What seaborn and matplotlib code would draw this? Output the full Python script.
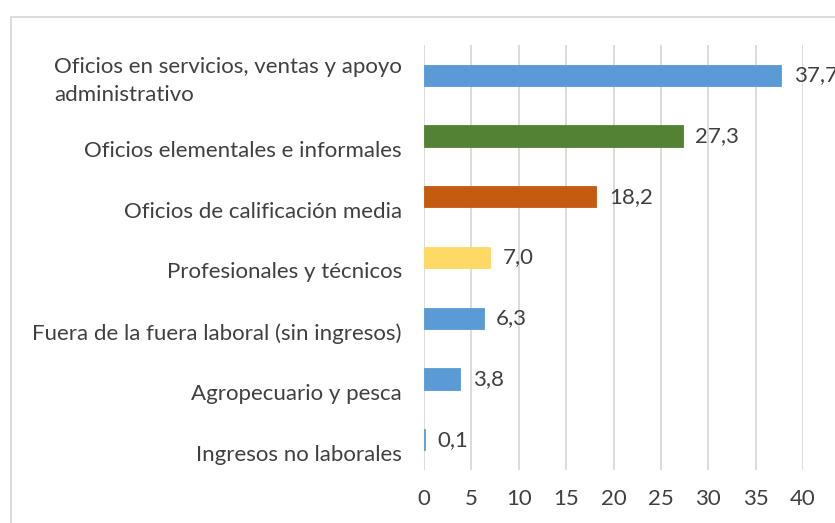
import matplotlib
matplotlib.use("Agg")
import matplotlib.pyplot as plt
import matplotlib.transforms as mtransforms
import seaborn as sns
import pandas as pd
from matplotlib.patches import Rectangle

categories = [
    "Oficios en servicios, ventas y apoyo\nadministrativo",
    "Oficios elementales e informales",
    "Oficios de calificación media",
    "Profesionales y técnicos",
    "Fuera de la fuera laboral (sin ingresos)",
    "Agropecuario y pesca",
    "Ingresos no laborales",
]
values = [37.7, 27.3, 18.2, 7.0, 6.3, 3.8, 0.1]
colors = ["#5B9BD5", "#548235", "#C55A11", "#FFD966", "#5B9BD5", "#5B9BD5", "#5B9BD5"]
xticks = [0, 5, 10, 15, 20, 25, 30, 35, 40]

df = pd.DataFrame({"cat": categories, "val": values})

sns.set_theme(style="white")
plt.rcParams["font.family"] = ["Lato", "DejaVu Sans"]

fig = plt.figure(figsize=(8.35, 5.23), dpi=100)
ax = fig.add_axes([0.5078, 0.1013, 0.9617 - 0.5078, 0.914 - 0.1013])

sns.barplot(data=df, y="cat", x="val", hue="cat", palette=colors, order=categories,
            hue_order=categories, orient="h", width=0.35, legend=False, ax=ax, saturation=1)
for p, c in zip(ax.patches, colors):
    p.set_edgecolor(c)
    p.set_linewidth(0.6)

ax.set_xlim(0, 40)
ax.set_xticks(xticks)
ax.set_xticklabels([str(t) for t in xticks])
ax.grid(axis="x", color="#D9D9D9", linewidth=1.3)
ax.set_axisbelow(True)
for s in ax.spines.values():
    s.set_visible(False)
ax.set_xlabel("")
ax.set_ylabel("")
ax.tick_params(axis="both", length=0, labelsize=16, colors="#404040")
ax.tick_params(axis="y", pad=16)
ax.tick_params(axis="x", pad=14)

shift = mtransforms.ScaledTranslation(0, -0.13, fig.dpi_scale_trans)
for i, lbl in enumerate(ax.get_yticklabels()):
    lbl.set_multialignment("left")
    lbl.set_linespacing(1.45)
    if i > 0:
        lbl.set_transform(lbl.get_transform() + shift)

for i, v in enumerate(values):
    ax.annotate(f"{v:.1f}".replace(".", ","), xy=(v, i), xytext=(9, 0),
                textcoords="offset points", va="center", ha="left",
                fontsize=16, color="#404040", annotation_clip=False)

fig.patches.append(Rectangle((11 / 835, -0.1), 1.2, 1 - 17 / 523 + 0.1,
                             transform=fig.transFigure, fill=False,
                             edgecolor="#D9D9D9", linewidth=1.3))

fig.savefig("out.png", dpi=100)
